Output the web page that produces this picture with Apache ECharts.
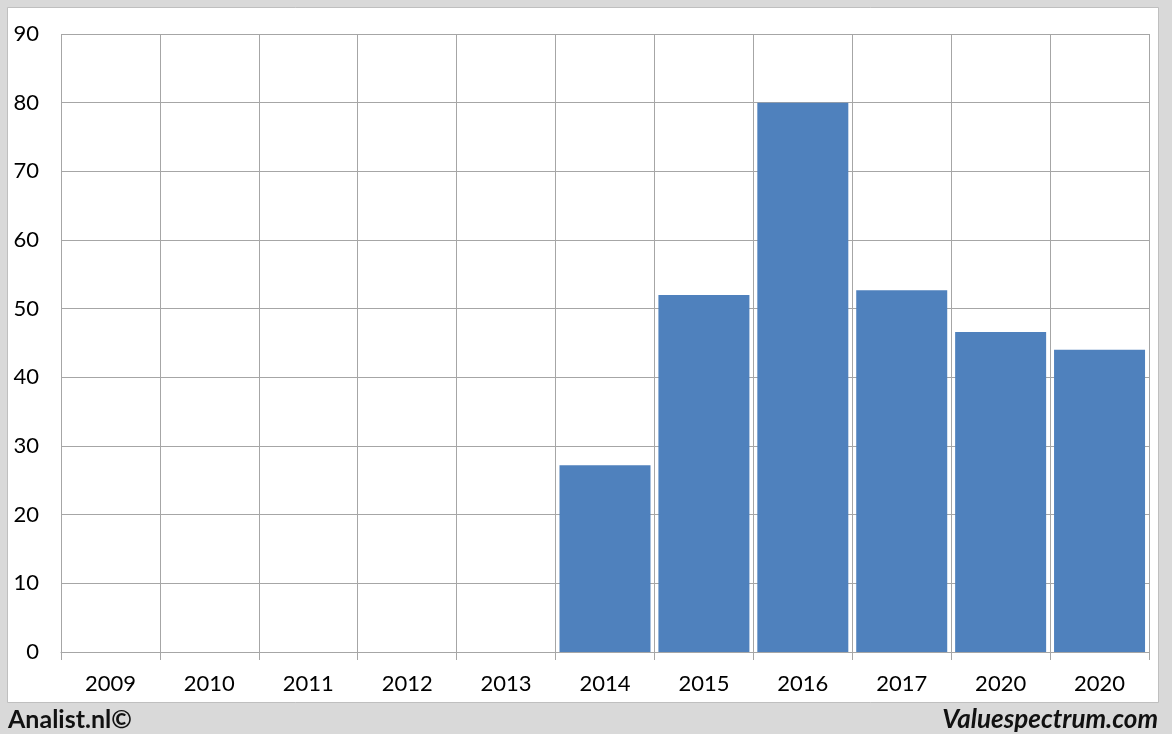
<!DOCTYPE html>
<html><head><meta charset="utf-8">
<script src="https://cdn.jsdelivr.net/npm/echarts@6/dist/echarts.min.js"></script>
<style>html,body{margin:0;padding:0;background:#d9d9d9;}#c{width:1172px;height:734px;}</style>
</head><body><div id="c"></div>
<script>
const categories = ['2009','2010','2011','2012','2013','2014','2015','2016','2017','2020','2020'];
const values = [null,null,null,null,null,27.2,52,80,52.7,46.6,44];
const yTicks = {min:0,max:90,interval:10};

const chart = echarts.init(document.getElementById('c'));
const font = 'Lato, "Open Sans", sans-serif';
chart.setOption({
  backgroundColor:'#d9d9d9',
  animation:false,
  graphic:[{type:'rect',shape:{x:7.5,y:7.5,width:1151,height:695},style:{fill:'#ffffff',stroke:'#bfbfbf',lineWidth:1},z:-10}],
  title:[
    {text:'Analist.nl©',left:3,top:702,textStyle:{fontFamily:font,fontWeight:'bold',fontSize:25,color:'#111'}},
    {text:'Valuespectrum.com',right:9,top:702,textStyle:{fontFamily:font,fontWeight:'bold',fontStyle:'italic',fontSize:26,color:'#111'}}
  ],
  grid:{left:61,right:23,top:34,bottom:82,containLabel:false},
  xAxis:{type:'category',data:categories,boundaryGap:true,
    axisLine:{lineStyle:{color:'#a6a6a6',width:1}},
    axisTick:{show:true,length:8,lineStyle:{color:'#a6a6a6'}},
    splitLine:{show:true,lineStyle:{color:'#a6a6a6',width:1}},
    axisLabel:{color:'#000',fontSize:22,fontFamily:font,margin:21}},
  yAxis:{type:'value',min:yTicks.min,max:yTicks.max,interval:yTicks.interval,
    axisLine:{show:false},axisTick:{show:false},
    splitLine:{lineStyle:{color:'#a6a6a6',width:1}},
    axisLabel:{color:'#000',fontSize:22,fontFamily:font,margin:22}},
  series:[{type:'bar',data:values,barCategoryGap:'8%',itemStyle:{color:'#4f81bd'}}]
});
</script></body></html>
